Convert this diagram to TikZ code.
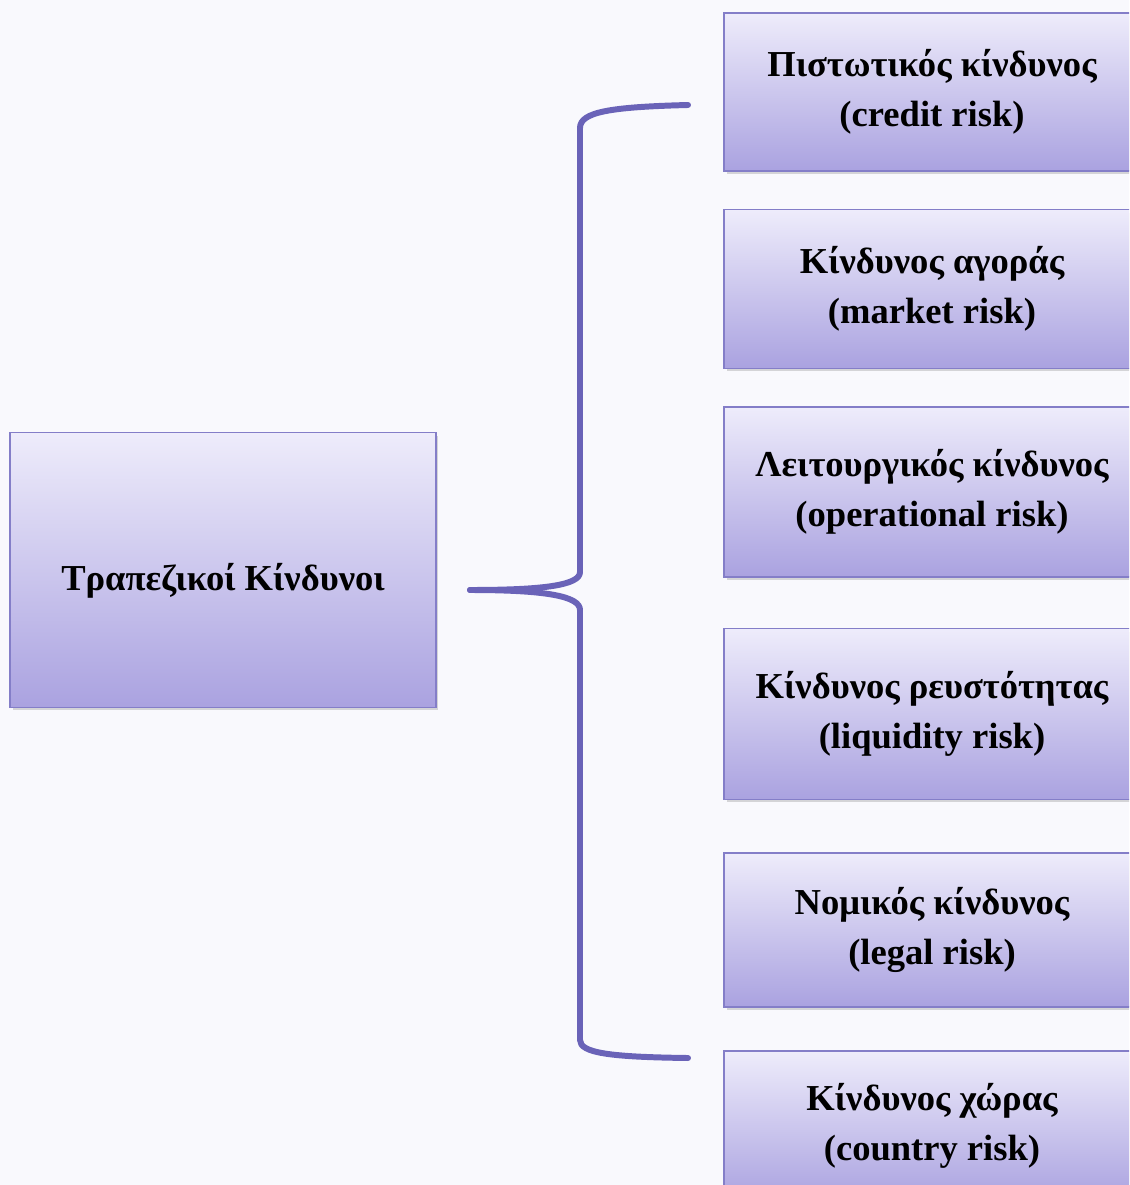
\documentclass[tikz,border=0pt]{standalone}
\usepackage{fontspec}
\setmainfont{Liberation Serif}
\usetikzlibrary{positioning,shadows}
\definecolor{pagebg}{RGB}{249,249,253}
\definecolor{riskline}{RGB}{106,99,184}
\definecolor{risktop}{RGB}{238,236,251}
\definecolor{riskbot}{RGB}{170,162,224}
\definecolor{riskedge}{RGB}{132,126,200}
\tikzset{
  riskbox/.style={rectangle, draw=riskedge, line width=0.9pt,
    top color=risktop, bottom color=riskbot, align=center, inner sep=0pt,
    font=\fontsize{20.8}{28.5}\selectfont\bfseries,
    execute at begin node={\rule{0pt}{28pt}},
    drop shadow={opacity=0.3, shadow xshift=0.5mm, shadow yshift=-0.6mm}},
  sub/.style={riskbox, minimum width=8.32cm},
  brace/.style={draw=riskline, line width=3.4pt, line cap=round, line join=round}
}

\begin{document}
\begin{tikzpicture}[x=0.02cm, y=-0.02cm]
  \clip (0,0) rectangle (1129,1185);
  \fill[pagebg] (0,0) rectangle (1129,1185);
  % main box
  \node[riskbox, minimum width=8.52cm, minimum height=5.5cm] (bank) at (223,570) {Τραπεζικοί Κίνδυνοι};
  % the six kinds of risk
  \node[sub, minimum height=3.16cm] (credit) at (932,92) {Πιστωτικός κίνδυνος\\(credit risk)};
  \node[sub, minimum height=3.18cm] (market) at (932,289) {Κίνδυνος αγοράς\\(market risk)};
  \node[sub, minimum height=3.4cm] (oper) at (932,492) {Λειτουργικός κίνδυνος\\(operational risk)};
  \node[sub, minimum height=3.42cm] (liquid) at (932,714) {Κίνδυνος ρευστότητας\\(liquidity risk)};
  \node[sub, minimum height=3.08cm] (legal) at (932,930) {Νομικός κίνδυνος\\(legal risk)};
  \node[sub, minimum height=3.0cm] (country) at (932,1126) {Κίνδυνος χώρας\\(country risk)};
  % brace
  \coordinate (tip) at (470,590);
  \coordinate (top) at (688,105);
  \coordinate (bot) at (688,1058);
  \draw[brace] (top) .. controls (610,107) and (580,112) .. (580,128)
    -- (580,572) .. controls (580,585) and (545,590) .. (tip);
  \draw[brace] (tip) .. controls (545,590) and (580,596) .. (580,610)
    -- (580,1040) .. controls (580,1053) and (610,1057) .. (bot);
\end{tikzpicture}
\end{document}
